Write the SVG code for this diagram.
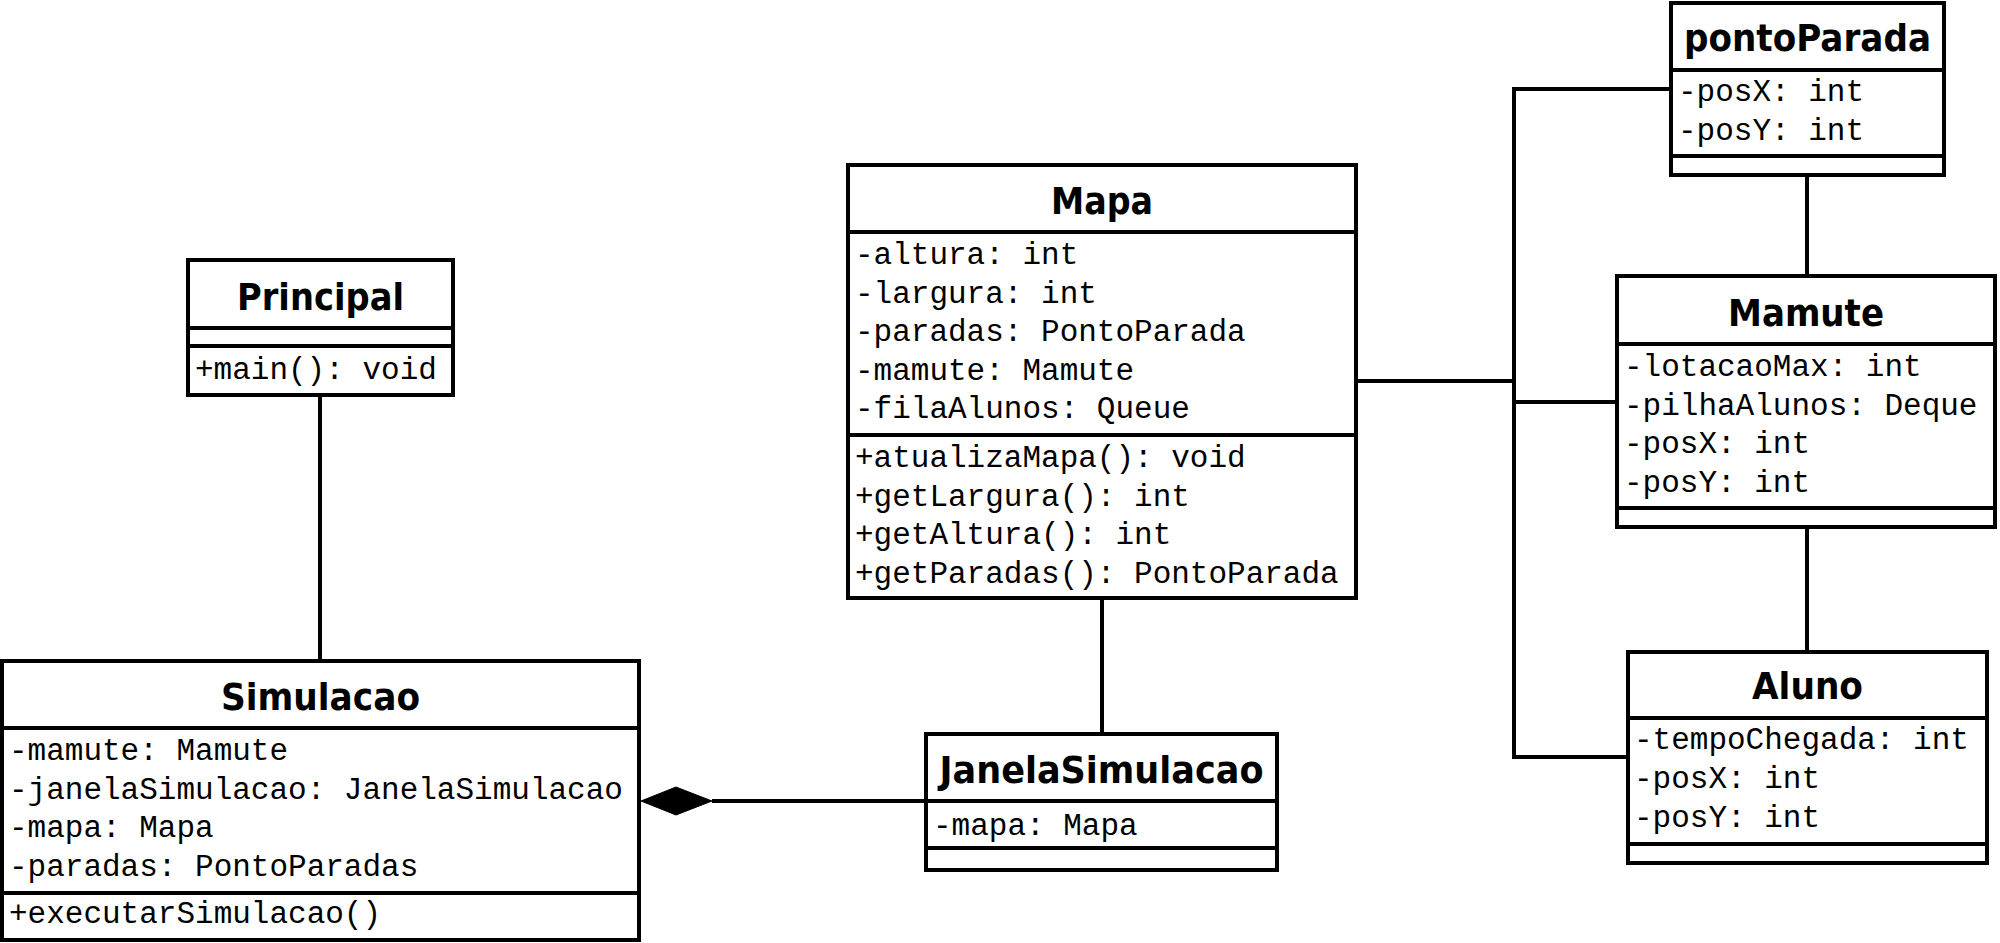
<svg xmlns="http://www.w3.org/2000/svg" width="2000" height="943" viewBox="0 0 2000 943">
<style>
.box{fill:#fff;stroke:#000;stroke-width:4}
.div{stroke:#000;stroke-width:4}
.t{font-family:"DejaVu Sans",sans-serif;font-weight:bold;font-size:38px;text-anchor:middle;fill:#000}
.a{font-family:"Courier New","Nimbus Mono PS","FreeMono","Liberation Mono",monospace;font-size:31px;fill:#000}
.c{fill:none;stroke:#000;stroke-width:4}
</style>
<rect width="2000" height="943" fill="#fff"/>
<g id="connectors">
<path class="c" d="M320,395 V661"/>
<path class="c" d="M712,801 H926"/>
<polygon points="641,801 676,787 712,801 676,815" fill="#000" stroke="#000" stroke-width="1"/>
<path class="c" d="M1102,598 V734"/>
<path class="c" d="M1356,381 H1514"/>
<path class="c" d="M1671,89 H1514 V757 H1628"/>
<path class="c" d="M1514,402 H1617"/>
<path class="c" d="M1807,175 V276"/>
<path class="c" d="M1807,527 V652"/>
</g>
<g id="Principal">
<rect class="box" x="188" y="260" width="265" height="135"/>
<line class="div" x1="188" y1="328" x2="453" y2="328"/>
<line class="div" x1="188" y1="346" x2="453" y2="346"/>
<text class="t" x="320.5" y="310" textLength="167" lengthAdjust="spacingAndGlyphs">Principal</text>
<text class="a" x="195" y="379">+main(): void</text>
</g>
<g id="Simulacao">
<rect class="box" x="2" y="661" width="637" height="279"/>
<line class="div" x1="2" y1="728" x2="639" y2="728"/>
<line class="div" x1="2" y1="893" x2="639" y2="893"/>
<text class="t" x="320.5" y="710" textLength="199" lengthAdjust="spacingAndGlyphs">Simulacao</text>
<text class="a" x="9" y="760">-mamute: Mamute</text>
<text class="a" x="9" y="798.5">-janelaSimulacao: JanelaSimulacao</text>
<text class="a" x="9" y="837">-mapa: Mapa</text>
<text class="a" x="9" y="875.5">-paradas: PontoParadas</text>
<text class="a" x="9" y="923">+executarSimulacao()</text>
</g>
<g id="Mapa">
<rect class="box" x="848" y="165" width="508" height="433"/>
<line class="div" x1="848" y1="232" x2="1356" y2="232"/>
<line class="div" x1="848" y1="435" x2="1356" y2="435"/>
<text class="t" x="1102" y="214" textLength="102" lengthAdjust="spacingAndGlyphs">Mapa</text>
<text class="a" x="855" y="264">-altura: int</text>
<text class="a" x="855" y="302.5">-largura: int</text>
<text class="a" x="855" y="341">-paradas: PontoParada</text>
<text class="a" x="855" y="379.5">-mamute: Mamute</text>
<text class="a" x="855" y="418">-filaAlunos: Queue</text>
<text class="a" x="855" y="467">+atualizaMapa(): void</text>
<text class="a" x="855" y="505.5">+getLargura(): int</text>
<text class="a" x="855" y="544">+getAltura(): int</text>
<text class="a" x="855" y="582.5">+getParadas(): PontoParada</text>
</g>
<g id="JanelaSimulacao">
<rect class="box" x="926" y="734" width="351" height="136"/>
<line class="div" x1="926" y1="801" x2="1277" y2="801"/>
<line class="div" x1="926" y1="848" x2="1277" y2="848"/>
<text class="t" x="1101.5" y="783" textLength="324" lengthAdjust="spacingAndGlyphs">JanelaSimulacao</text>
<text class="a" x="933" y="835">-mapa: Mapa</text>
</g>
<g id="pontoParada">
<rect class="box" x="1671" y="3" width="273" height="172"/>
<line class="div" x1="1671" y1="70" x2="1944" y2="70"/>
<line class="div" x1="1671" y1="156" x2="1944" y2="156"/>
<text class="t" x="1807.5" y="51" textLength="247" lengthAdjust="spacingAndGlyphs">pontoParada</text>
<text class="a" x="1678" y="101">-posX: int</text>
<text class="a" x="1678" y="139.5">-posY: int</text>
</g>
<g id="Mamute">
<rect class="box" x="1617" y="276" width="378" height="251"/>
<line class="div" x1="1617" y1="344" x2="1995" y2="344"/>
<line class="div" x1="1617" y1="508" x2="1995" y2="508"/>
<text class="t" x="1806" y="326" textLength="156" lengthAdjust="spacingAndGlyphs">Mamute</text>
<text class="a" x="1624" y="376">-lotacaoMax: int</text>
<text class="a" x="1624" y="414.5">-pilhaAlunos: Deque</text>
<text class="a" x="1624" y="453">-posX: int</text>
<text class="a" x="1624" y="491.5">-posY: int</text>
</g>
<g id="Aluno">
<rect class="box" x="1628" y="652" width="359" height="211"/>
<line class="div" x1="1628" y1="718" x2="1987" y2="718"/>
<line class="div" x1="1628" y1="844" x2="1987" y2="844"/>
<text class="t" x="1807.5" y="699" textLength="111" lengthAdjust="spacingAndGlyphs">Aluno</text>
<text class="a" x="1634" y="749">-tempoChegada: int</text>
<text class="a" x="1634" y="788">-posX: int</text>
<text class="a" x="1634" y="827">-posY: int</text>
</g>
</svg>
